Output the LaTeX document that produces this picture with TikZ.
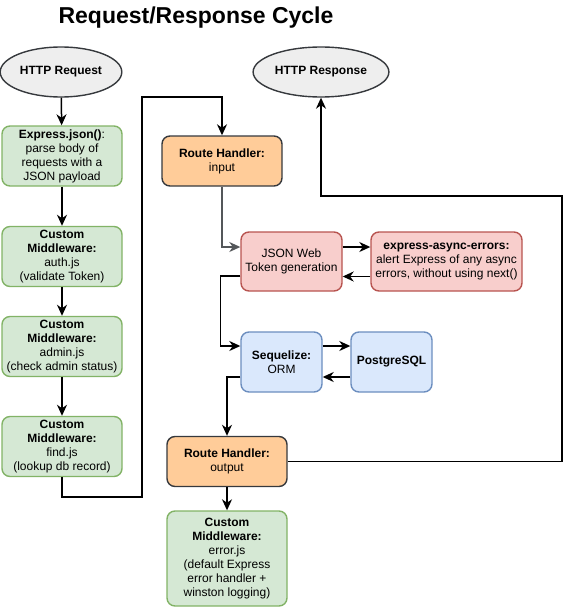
\documentclass[tikz,border=0pt]{standalone}
\usepackage{fontspec}
\setmainfont{Liberation Sans}
\usetikzlibrary{shapes.geometric,arrows.meta}
\definecolor{greenfill}{HTML}{D5E8D4}
\definecolor{greenline}{HTML}{82B366}
\definecolor{orangefill}{HTML}{FFCC99}
\definecolor{darkline}{HTML}{36393D}
\definecolor{redfill}{HTML}{F8CECC}
\definecolor{redline}{HTML}{B85450}
\definecolor{bluefill}{HTML}{DAE8FC}
\definecolor{blueline}{HTML}{6C8EBF}
\definecolor{greyfill}{HTML}{EEEEEE}
\begin{document}
\begin{tikzpicture}[x=1pt,y=-1pt]
				\tikzstyle{base}=[draw,line width=1.4pt,align=center,inner sep=2pt,font=\fontsize{12}{14}\selectfont]
				\tikzstyle{oval}=[base,ellipse,fill=greyfill,draw=darkline,minimum width=121pt,minimum height=50pt,font=\bfseries\fontsize{12}{14}\selectfont]
				\tikzstyle{box}=[base,rectangle,rounded corners=8pt,minimum width=120pt,minimum height=60pt]
				\tikzstyle{mid}=[box,fill=greenfill,draw=greenline]
				\tikzstyle{handler}=[box,fill=orangefill,draw=darkline,minimum height=50pt]
				\tikzstyle{token}=[box,fill=redfill,draw=redline,minimum height=59pt]
				\tikzstyle{db}=[box,fill=bluefill,draw=blueline,minimum width=81pt]
				\tikzstyle{flow}=[line width=1.5pt,-{Stealth[length=11pt,width=10pt,inset=3.5pt]}]
				\useasboundingbox (0,0) rectangle (570,607);
				\node[font=\bfseries\fontsize{23}{26}\selectfont](title) at (196,18) {Request/Response Cycle};
				\node[oval](req) at (61,72) {HTTP Request};
				\node[oval](resp) at (321,72) {HTTP Response};
				\node[mid](json) at (62,156) {\textbf{Express.json()}:\\parse body of\\requests with a\\JSON payload};
				\node[mid](auth) at (62,256.5) {\textbf{Custom}\\\textbf{Middleware:}\\auth.js\\(validate Token)};
				\node[mid](admin) at (62,346.5) {\textbf{Custom}\\\textbf{Middleware:}\\admin.js\\(check admin status)};
				\node[mid](find) at (62,446.5) {\textbf{Custom}\\\textbf{Middleware:}\\find.js\\(lookup db record)};
				\node[handler](rin) at (222,161) {\textbf{Route Handler:}\\input};
				\node[token,minimum width=101pt](jwt) at (291.5,261.5) {JSON Web\\Token generation};
				\node[token,minimum width=151pt](async) at (446.5,261.5) {\textbf{express-async-errors:}\\alert Express of any async\\errors, without using next()};
				\node[db](seq) at (281.5,362) {\textbf{Sequelize:}\\ORM};
				\node[db](pg) at (391.5,362) {\textbf{PostgreSQL}};
				\node[handler](rout) at (227,461.5) {\textbf{Route Handler:}\\output};
				\node[mid,minimum height=95pt](err) at (227,558.5) {\textbf{Custom}\\\textbf{Middleware:}\\error.js\\(default Express\\error handler +\\winston logging)};
				\coordinate (up) at (142,97);
				\coordinate (back) at (562,196);
				\draw[flow] (req) to (json);
				\draw[flow] (json) to (auth);
				\draw[flow] (auth) to (admin);
				\draw[flow] (admin) to (find);
				\draw[flow] (find.south) -- ++(0,20) -| (up) -| (rin.north);
				\draw[flow,draw=darkline!85] (rin.south) |- ([yshift=14.5pt]jwt.west);
				\draw[flow] ([yshift=14.5pt]jwt.east) to ([yshift=14.5pt]async.west);
				\draw[flow] ([yshift=-15pt]async.west) to ([yshift=-15pt]jwt.east);
				\draw[flow] ([yshift=-14.5pt]jwt.west) -- ++(-20,0) |- ([yshift=16pt]seq.west);
				\draw[flow] ([yshift=16pt]seq.east) to ([yshift=16pt]pg.west);
				\draw[flow] ([yshift=-15pt]pg.west) to ([yshift=-15pt]seq.east);
				\draw[flow] ([yshift=-15pt]seq.west) -| (rout.north);
				\draw[flow] (rout) to (err);
				\draw[flow] (rout.east) -| (back) -| (resp.south);
			\end{tikzpicture}
\end{document}
